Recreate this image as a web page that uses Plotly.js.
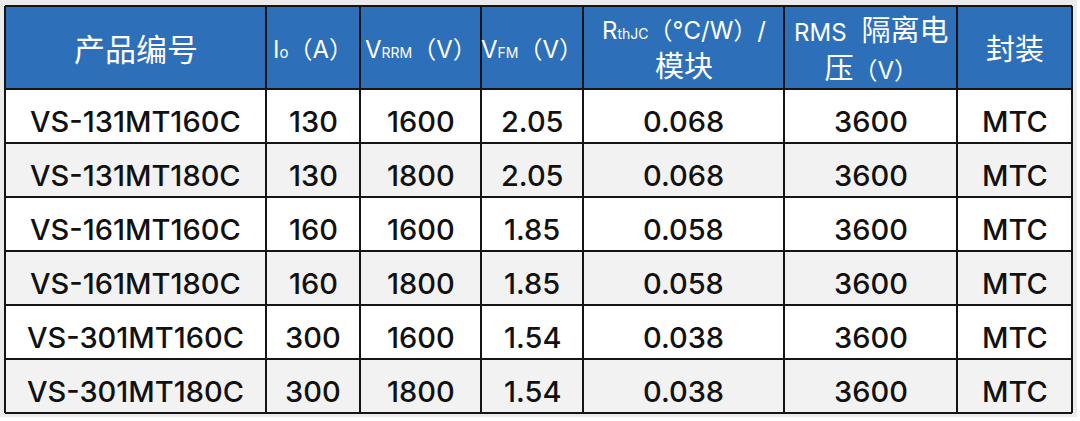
<!DOCTYPE html>
<html>
<head>
<meta charset="utf-8">
<script src="https://cdn.plot.ly/plotly-3.0.1.min.js"></script>
<style>html,body{margin:0;padding:0;background:#fff;}#chart{width:1080px;height:421px;}</style>
</head>
<body>
<div id="chart"></div>
<script>
// ---- data ----
const headers = [
  '<span style="font-size:31px">产品编号</span>',
  '<span style="font-size:24px">I<span style="font-size:15px">o</span>（A）</span>',
  '<span style="font-size:24px">V<span style="font-size:14px">RRM</span>（V）</span>',
  '<span style="font-size:24px">V<span style="font-size:14px">FM</span>（V）</span>',
  '<span style="font-size:24px">R<span style="font-size:14px">thJC</span>（°C/W）/</span><br>模块',
  '<span style="font-size:24px">RMS </span> 隔离电<br>压<span style="font-size:24px">（V）</span>',
  '封装'
];
const partNumbers = ['VS-131MT160C', 'VS-131MT180C', 'VS-161MT160C', 'VS-161MT180C', 'VS-301MT160C', 'VS-301MT180C'];
const currentA = ['130', '130', '160', '160', '300', '300'];
const vrrmV = ['1600', '1800', '1600', '1800', '1600', '1800'];
const vfmV = ['2.05', '2.05', '1.85', '1.85', '1.54', '1.54'];
const rthjc = ['0.068', '0.068', '0.058', '0.058', '0.038', '0.038'];
const rmsV = ['3600', '3600', '3600', '3600', '3600', '3600'];
const packages = ['MTC', 'MTC', 'MTC', 'MTC', 'MTC', 'MTC'];
const columns = [partNumbers, currentA, vrrmV, vfmV, rthjc, rmsV, packages];

// ---- layout sizes ----
const colWidths = [261, 94, 121, 102, 201, 173, 115];
const headerH = 83;
const rowH = 54;
const blue = '#2e6fb9';
const rowFills = ['#ffffff', '#f2f2f2'];
const lineColor = '#151515';
const fontFamily = 'Inter, "Noto Sans CJK SC", sans-serif';

const xEdges = [0];
colWidths.forEach(w => xEdges.push(xEdges[xEdges.length - 1] + w));
const totalW = xEdges[xEdges.length - 1];
const nRows = partNumbers.length;
const yEdges = [0, headerH];
for (let r = 0; r < nRows; r++) yEdges.push(yEdges[yEdges.length - 1] + rowH);
const totalH = yEdges[yEdges.length - 1];

const shapes = [];
// soft grey frame behind the table
shapes.push({type: 'rect', xref: 'x', yref: 'y', x0: -5, x1: totalW + 5, y0: -6, y1: totalH + 4,
  fillcolor: '#ebebeb', line: {width: 0}, layer: 'below'});
// header fill
shapes.push({type: 'rect', xref: 'x', yref: 'y', x0: 0, x1: totalW, y0: 0, y1: headerH,
  fillcolor: blue, line: {width: 0}, layer: 'below'});
// row fills
for (let r = 0; r < nRows; r++) {
  shapes.push({type: 'rect', xref: 'x', yref: 'y', x0: 0, x1: totalW, y0: yEdges[r + 1], y1: yEdges[r + 2],
    fillcolor: rowFills[r % 2], line: {width: 0}, layer: 'below'});
}
// grid lines
yEdges.forEach(y => shapes.push({type: 'line', xref: 'x', yref: 'y', x0: 0, x1: totalW, y0: y, y1: y,
  line: {color: lineColor, width: 2}}));
xEdges.forEach(x => shapes.push({type: 'line', xref: 'x', yref: 'y', x0: x, x1: x, y0: 0, y1: totalH,
  line: {color: lineColor, width: 2}}));

const annotations = [];
headers.forEach((h, c) => {
  annotations.push({
    xref: 'x', yref: 'y',
    x: (xEdges[c] + xEdges[c + 1]) / 2, y: headerH / 2,
    text: h, showarrow: false, xanchor: 'center', yanchor: 'middle', align: 'center',
    yshift: -2,
    font: {family: fontFamily, size: 29, color: '#ffffff', weight: 400}
  });
});
columns.forEach((col, c) => {
  col.forEach((v, r) => {
    annotations.push({
      xref: 'x', yref: 'y',
      x: (xEdges[c] + xEdges[c + 1]) / 2, y: (yEdges[r + 1] + yEdges[r + 2]) / 2,
      text: v, showarrow: false, xanchor: 'center', yanchor: 'middle',
      yshift: -5,
      font: {family: fontFamily, size: 29, color: '#111111', weight: 500}
    });
  });
});

Plotly.newPlot('chart', [], {
  width: 1080, height: 421,
  margin: {l: 0, r: 0, t: 0, b: 0},
  paper_bgcolor: '#ffffff', plot_bgcolor: '#ffffff',
  xaxis: {range: [-5, 1075], visible: false, fixedrange: true},
  yaxis: {range: [415, -6], visible: false, fixedrange: true},
  shapes: shapes,
  annotations: annotations,
  showlegend: false
}, {displayModeBar: false, staticPlot: true});
</script>
</body>
</html>
